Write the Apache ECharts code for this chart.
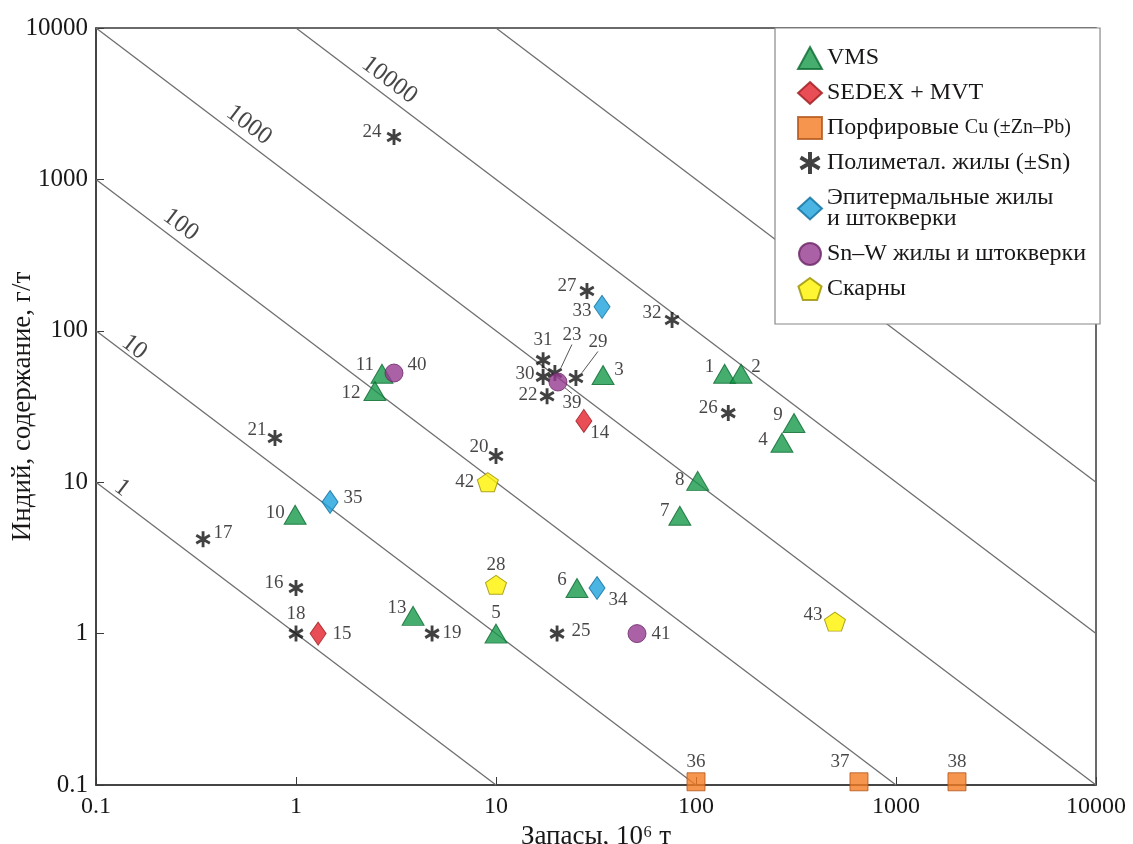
<!DOCTYPE html>
<html><head><meta charset="utf-8">
<script src="https://cdn.jsdelivr.net/npm/echarts@6/dist/echarts.min.js"></script>
<style>html,body{margin:0;padding:0;background:#fff}#c{width:1133px;height:844px}</style>
</head><body><div id="c"></div><script>
// Deposits: [reserves, 10^6 t ; indium grade, g/t ; deposit number]
const vms = [[139,52,1],[168,52,2],[34.3,51,3],[269,18.2,4],[10,1.0,5],[25.4,2.0,6],[83,6.0,7],[102,10.2,8],[309,24.6,9],[0.99,6.1,10],[2.69,52,11],[2.48,40,12],[3.85,1.31,13]];
const sedex = [[27.5,25.4,14],[1.29,1.0,15]];
const porphyry = [[100,0.105,36],[653,0.105,37],[2018,0.105,38]];
const polymetallic = [[1.0,2.0,16],[0.343,4.2,17],[1.0,1.0,18],[4.79,1.0,19],[10,14.9,20],[0.785,19.6,21],[18,37,22],[19.7,52.6,23],[3.09,1905,24],[20.2,1.0,25],[145,28.6,26],[28.5,183,27],[25.1,48.8,29],[17.2,49.6,30],[17.2,64,31],[75.9,118,32]];
const epithermal = [[33.9,144,33],[32,2.0,34],[1.48,7.4,35]];
const snw = [[20.4,45.9,39],[3.09,52.6,40],[50.7,1.0,41]];
const skarn = [[9.1,10,42],[10,2.1,28],[495,1.2,43]];
const groupNames = ['VMS','SEDEX + MVT','Порфировые Cu (±Zn–Pb)','Полиметал. жилы (±Sn)','Эпитермальные жилы\nи штокверки','Sn–W жилы и штокверки','Скарны'];
// Iso-lines of indium metal (t) = reserves * grade
const metalLines = [1,10,100,1000,10000,100000];
const metalLabels = ['1','10','100','1000','10000'];
const metalLabelX = [0.117,0.136,0.237,0.52,2.62];
const xName = 'Запасы, 10⁶ т';
const yName = 'Индий, содержание, г/т';

// label placement (layout only)
const metalLabelOffset = [[7,-11],[7,-10],[1,-15],[1,-15],[1,-15]];
const shift = {1:[-15,-7],2:[15,-7],3:[16,-5],4:[-19,-3],5:[0,-21],6:[-15,-8],7:[-15,-5],8:[-18,-1],9:[-16,-8],10:[-20,-2],
 11:[-17,-9],12:[-24,2],13:[-16,-8],14:[16,12],15:[24,0],16:[-22,-5],17:[20,-6],18:[0,-20],19:[20,-1],20:[-17,-9],
 21:[-18,-8],22:[-19,-1],23:[17,-38],24:[-22,-5],25:[24,-3],26:[-20,-5],27:[-20,-5],28:[0,-20],29:[22,-36],30:[-18,-3],
 31:[0,-20],32:[-20,-7],33:[-20,4],34:[21,12],35:[23,-4],36:[0,-20],37:[-19,-20],38:[0,-20],39:[14,21],40:[23,-8],
 41:[24,0],42:[-23,0],43:[-22,-7]};
const leader = [23,29,39];

const FONT = 'Liberation Serif';
const TXT = '#1a1718';
const asterisk = 'path://M-18,-100L18,-100L18,100L-18,100Z M77,-66L95,-34L-77,66L-95,34Z M95,34L77,66L-95,-34L-77,-66Z';
const pentagon = 'path://M0,-100L95.1,-30.9L58.8,80.9L-58.8,80.9L-95.1,-30.9Z';

function pointSeries(name, arr, symbol, size, color, border) {
  return {
    type: 'scatter', name, z: 5,
    symbol, symbolSize: size, symbolKeepAspect: false,
    itemStyle: {color, borderColor: border, borderWidth: border ? 1 : 0},
    data: arr.map(d => ({value: d, labelLine: {show: leader.includes(d[2])}})),
    label: {show: true, position: 'inside', formatter: p => String(p.value[2]),
      fontFamily: FONT, fontSize: 19, color: TXT},
    labelLine: {lineStyle: {color: '#555', width: 1}},
    labelLayout: p => { const s = shift[arr[p.dataIndex][2]] || [0,0]; return {dx: s[0], dy: s[1]}; },
    emphasis: {disabled: true}
  };
}

const lineSeries = metalLines.map(P => {
  const x0 = Math.max(0.1, P / 10000), x1 = Math.min(10000, P / 0.1);
  return {type: 'line', silent: true, symbol: 'none', z: 2, animation: false,
    lineStyle: {color: '#6d6e71', width: 1.3},
    data: [[x0, P / x0], [x1, P / x1]]};
});

const labelSeries = {
  type: 'scatter', silent: true, z: 3, symbolSize: 0.01, itemStyle: {color: 'transparent'},
  data: metalLabels.map((t, i) => ({value: [metalLabelX[i], Number(t) / metalLabelX[i]], name: t,
    label: {offset: metalLabelOffset[i]}})),
  label: {show: true, position: 'inside', formatter: p => p.name, rotate: -37,
    fontFamily: FONT, fontSize: 25, color: TXT}
};

const chart = echarts.init(document.getElementById('c'), null, {renderer: 'canvas'});
chart.setOption({
  animation: false,
  backgroundColor: '#fff',
  textStyle: {fontFamily: FONT},
  grid: {left: 96, top: 28, width: 1000, height: 757, show: true, borderColor: '#3a3a3a', borderWidth: 1.5,
    containLabel: false, outerBoundsMode: 'none'},
  xAxis: {type: 'log', min: 0.1, max: 10000, splitNumber: 5,
    name: xName, nameLocation: 'middle', nameGap: 34,
    nameTextStyle: {fontFamily: FONT, fontSize: 27, color: TXT},
    axisLine: {lineStyle: {color: '#3a3a3a', width: 1.5}},
    axisTick: {inside: true, length: 8, lineStyle: {color: '#3a3a3a'}},
    axisLabel: {fontFamily: FONT, fontSize: 24, color: TXT, margin: 10, formatter: v => v < 1 ? v.toFixed(1) : String(Math.round(v))},
    splitLine: {show: false}, minorTick: {show: false}},
  yAxis: {type: 'log', min: 0.1, max: 10000, splitNumber: 5,
    name: yName, nameLocation: 'middle', nameGap: 60, nameRotate: 90, nameMoveOverlap: false,
    nameTextStyle: {fontFamily: FONT, fontSize: 27, color: TXT},
    axisLine: {lineStyle: {color: '#3a3a3a', width: 1.5}},
    axisTick: {inside: true, length: 8, lineStyle: {color: '#3a3a3a'}},
    axisLabel: {fontFamily: FONT, fontSize: 25, color: TXT, margin: 8, formatter: v => v < 1 ? v.toFixed(1) : String(Math.round(v))},
    splitLine: {show: false}},
  legend: {
    data: groupNames, orient: 'vertical', left: 775, top: 28,
    padding: [18, 14, 23, 22], itemGap: 11, itemWidth: 24, itemHeight: 22,
    backgroundColor: '#fff', borderColor: '#888', borderWidth: 1.2,
    selectedMode: false,
    textStyle: {fontFamily: FONT, fontSize: 24, lineHeight: 21, color: TXT,
      rich: {a: {fontFamily: FONT, fontSize: 24, color: TXT}, b: {fontFamily: FONT, fontSize: 20, color: TXT}}},
    formatter: n => n.startsWith('Порф') ? '{a|Порфировые }{b|Cu (±Zn–Pb)}' : n
  },
  series: [
    ...lineSeries,
    labelSeries,
    pointSeries(groupNames[0], vms, 'triangle', [22, 19], '#17994a', '#0b6a31'),
    pointSeries(groupNames[1], sedex, 'diamond', [16, 23], '#e3212a', '#9e1a1f'),
    pointSeries(groupNames[2], porphyry, 'rect', [18, 18], '#f47a20', '#b0561a'),
    pointSeries(groupNames[3], polymetallic, asterisk, [15, 16], '#111111', null),
    pointSeries(groupNames[4], epithermal, 'diamond', [16, 23], '#1da1dc', '#0f6f9d'),
    pointSeries(groupNames[5], snw, 'circle', 18, '#963a8e', '#6a2766'),
    pointSeries(groupNames[6], skarn, pentagon, [21, 19], '#fff200', '#9a9000')
  ]
});
</script></body></html>
